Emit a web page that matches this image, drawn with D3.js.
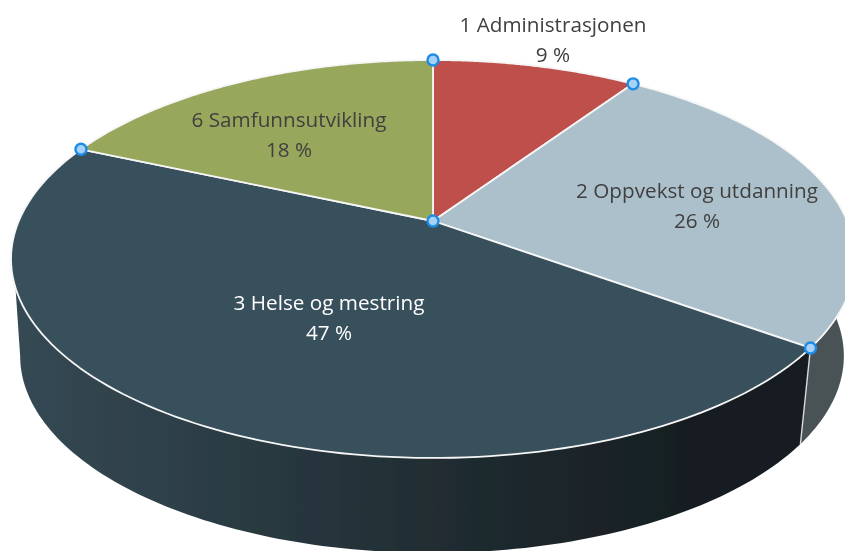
<!DOCTYPE html>
<html lang="no">
<head>
  <meta charset="UTF-8">
  <title>Fordeling per sektor</title>
  <style>
    html, body { margin: 0; padding: 0; background: #fff; overflow: hidden; }
    svg { display: block; }
    .label { font-family: "Open Sans", sans-serif; font-size: 20.7px; text-anchor: middle; }
  </style>
</head>
<body>
  <div id="chart"></div>
  <script src="https://d3js.org/d3.v7.min.js"></script>
  <script>
    // Data
    const categories = ["1 Administrasjonen", "2 Oppvekst og utdanning", "3 Helse og mestring", "6 Samfunnsutvikling"];
    const shares = [9.45, 25.55, 46.6, 18.4];
    const topColors = ["#be4f4c", "#abc0cb", "#374f5c", "#97a75b"];
    const textColors = ["#404040", "#404040", "#ffffff", "#404040"];
    const labelX = [553, 697, 329, 289];
    const labelY = [25, 191, 303, 120];

    const width = 845, height = 551;

    // Tilted disc: unit circle mapped to the screen with a perspective divide
    const cx = 433, cy = 221;      // pie centre as drawn
    const tilt = -0.191, ax = 414.2, ay = 191.7;
    // Lower edge of the side wall is the same rim, shrunk and moved down
    const wall = { x: 432, y: 356, ex: 433, ey: 259, sx: 0.976, sy: 0.99 };
    // Where the wall leaves the top rim and where it meets the lower rim, on the left
    const wallEndTop = 250.9 * Math.PI / 180, wallEndBottom = 259 * Math.PI / 180;

    function rim(a) {
      const u = Math.sin(a), v = -Math.cos(a), d = 1 + tilt * v;
      return [cx + ax * u / d, cy + ay * v / d];
    }
    function rimLow(a) {
      const p = rim(a);
      return [wall.x + (p[0] - wall.ex) * wall.sx, wall.y + (p[1] - wall.ey) * wall.sy];
    }
    function arcPoints(f, a0, a1) {
      return d3.range(0, 121).map(i => f(a0 + (a1 - a0) * i / 120));
    }

    const arcs = d3.pie().sort(null).value(d => d)(shares);
    const line = d3.line();

    const svg = d3.select("#chart").append("svg")
      .attr("width", width)
      .attr("height", height);

    const defs = svg.append("defs");
    const grad = defs.append("linearGradient")
      .attr("id", "wallGrad")
      .attr("gradientUnits", "userSpaceOnUse")
      .attr("x1", 12).attr("x2", 800).attr("y1", 0).attr("y2", 0);
    grad.selectAll("stop")
      .data([[0, "#354954"], [0.25, "#2c3d45"], [0.55, "#202c31"], [0.85, "#171f23"], [1, "#161d21"]])
      .enter().append("stop")
      .attr("offset", d => d[0])
      .attr("stop-color", d => d[1]);

    // The reference is a slightly soft screenshot
    defs.append("filter")
      .attr("id", "soft")
      .attr("x", 0).attr("y", 0).attr("width", 1).attr("height", 1)
      .attr("filterUnits", "objectBoundingBox")
      .append("feGaussianBlur")
      .attr("stdDeviation", 0.5);

    const g = svg.append("g").attr("filter", "url(#soft)");
    g.append("rect").attr("width", width).attr("height", height).attr("fill", "#fff");

    // Side walls
    const helse = arcs[2], oppvekst = arcs[1];
    g.append("path")
      .attr("d", line(arcPoints(rim, oppvekst.startAngle, oppvekst.endAngle)
        .concat(arcPoints(rimLow, oppvekst.endAngle, oppvekst.startAngle))) + "Z")
      .attr("fill", "#4a5257");
    g.append("path")
      .attr("d", line(arcPoints(rim, helse.startAngle, wallEndTop)
        .concat(arcPoints(rimLow, wallEndBottom, helse.startAngle))) + "Z")
      .attr("fill", "url(#wallGrad)");
    g.append("path")
      .attr("d", line([rim(helse.startAngle), rimLow(helse.startAngle)]))
      .attr("stroke", "#d8dadb")
      .attr("stroke-width", 1.4)
      .attr("fill", "none");

    // Top face
    g.selectAll(".slice")
      .data(arcs)
      .enter().append("path")
      .attr("class", "slice")
      .attr("d", d => line([[cx, cy]].concat(arcPoints(rim, d.startAngle, d.endAngle))) + "Z")
      .attr("fill", (d, i) => topColors[i])
      .attr("stroke", "#f6f6f6")
      .attr("stroke-width", 1.8)
      .attr("stroke-linejoin", "round");

    // Selection handles
    const handles = [[cx, cy]].concat(arcs.map(d => rim(d.startAngle)));
    g.selectAll(".handle")
      .data(handles)
      .enter().append("circle")
      .attr("class", "handle")
      .attr("cx", d => d[0])
      .attr("cy", d => d[1])
      .attr("r", 5.5)
      .attr("fill", "#a8d2f5")
      .attr("stroke", "#1e8ce6")
      .attr("stroke-width", 2.4);

    // Labels
    const labels = g.selectAll(".label")
      .data(arcs)
      .enter().append("text")
      .attr("class", "label")
      .attr("fill", (d, i) => textColors[i]);
    labels.append("tspan")
      .attr("x", (d, i) => labelX[i])
      .attr("y", (d, i) => labelY[i] + 7)
      .text((d, i) => categories[i]);
    labels.append("tspan")
      .attr("x", (d, i) => labelX[i])
      .attr("y", (d, i) => labelY[i] + 37)
      .text(d => Math.round(d.value) + " %");
  </script>
</body>
</html>
